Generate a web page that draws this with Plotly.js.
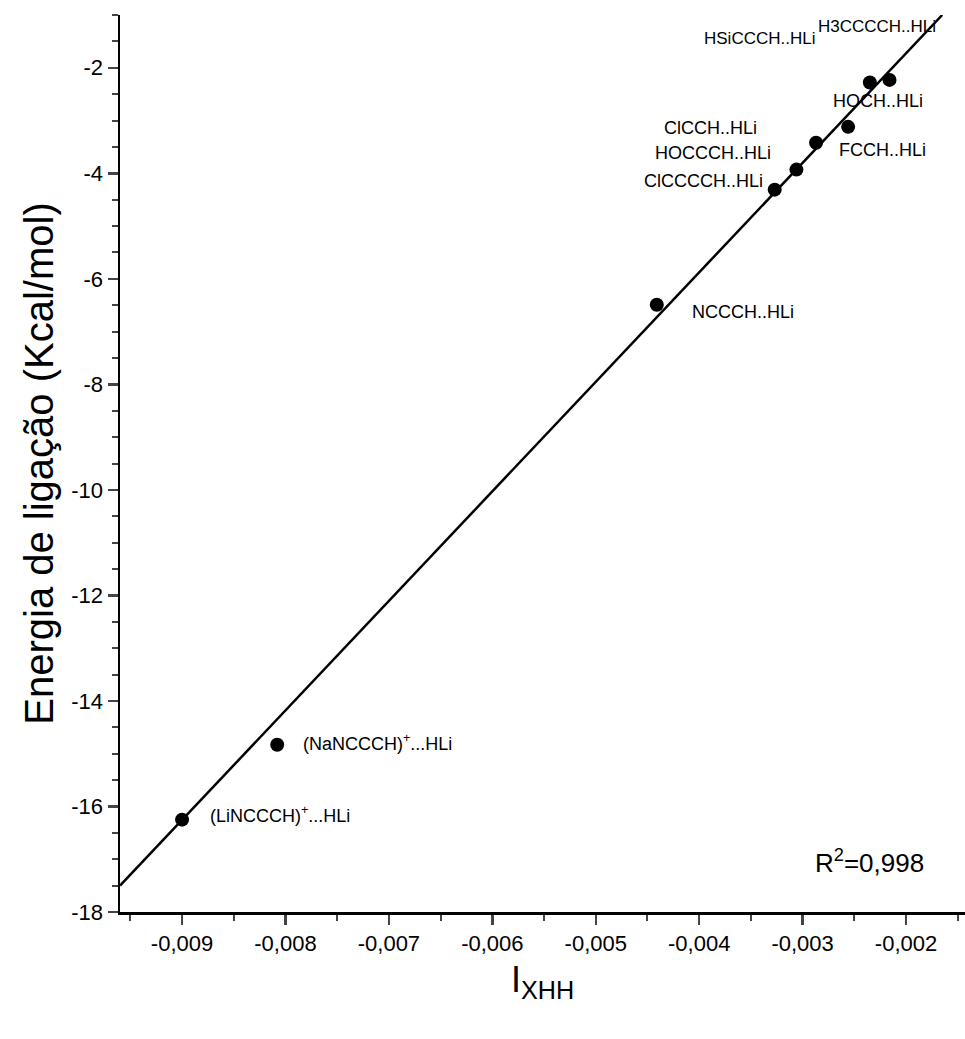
<!DOCTYPE html>
<html><head><script src="https://cdn.plot.ly/plotly-3.0.1.min.js"></script></head>
<body style="margin:0">
<div id="c" style="width:965px;height:1039px"></div>
<script>
const xVals=[-0.0090,-0.00808,-0.00441,-0.00327,-0.00306,-0.00287,-0.00256,-0.00235,-0.00216];
const yVals=[-16.25,-14.83,-6.49,-4.31,-3.93,-3.42,-3.12,-2.28,-2.23];
const fitX=[-0.0096,-0.00165];
const fitY=[-17.5,-1.0];
const labels=["(LiNCCCH)<sup>+</sup>...HLi","(NaNCCCH)<sup>+</sup>...HLi","NCCCH..HLi","ClCCCCH..HLi","HOCCCH..HLi","ClCCH..HLi","FCCH..HLi","HSiCCCH..HLi","H3CCCCH..HLi","HOCH..HLi"];
const labX=[-0.00875,-0.00785,-0.00409,-0.00396,-0.00387,-0.00389,-0.00223,-0.00342,-0.00228,-0.00227];
const labY=[-16.16,-14.78,-6.63,-4.14,-3.61,-3.14,-3.55,-1.45,-1.22,-2.63];
const labAnchor=["left","left","left","center","center","center","center","center","center","center"];
const F='Liberation Sans';
const ann=labels.map((t,i)=>({x:labX[i],y:labY[i],text:t,showarrow:false,xanchor:labAnchor[i],font:{size:i>=7&&i<=8?17:18,color:'#000',family:F}}));
ann.push({x:-0.00290,y:-17.05,text:"R<sup>2</sup>=0,998",showarrow:false,xanchor:'left',font:{size:26,color:'#000',family:F}});
Plotly.newPlot('c',[
 {x:fitX,y:fitY,mode:'lines',line:{color:'#000',width:2.5},hoverinfo:'skip'},
 {x:xVals,y:yVals,mode:'markers',marker:{color:'#000',size:14,symbol:'circle'}}
],{
 width:965,height:1039,showlegend:false,
 margin:{l:120,r:0,t:15,b:127},
 paper_bgcolor:'#fff',plot_bgcolor:'#fff',
 font:{family:F,color:'#000'},
 xaxis:{range:[-0.0096,-0.00143],tickvals:[-0.009,-0.008,-0.007,-0.006,-0.005,-0.004,-0.003,-0.002],
  ticktext:['-0,009','-0,008','-0,007','-0,006','-0,005','-0,004','-0,003','-0,002'],
  ticks:'outside',ticklen:10,tickwidth:2.5,showgrid:false,zeroline:false,showline:true,linewidth:2.5,linecolor:'#000',
  minor:{dtick:0.0005,ticks:'outside',ticklen:6,tickwidth:2},
  tickfont:{size:22,family:F},
  title:{text:'I<sub>XHH</sub>',font:{size:36},standoff:12}},
 yaxis:{range:[-18,-1],tickvals:[-18,-16,-14,-12,-10,-8,-6,-4,-2],
  ticktext:['-18','-16','-14','-12','-10','-8','-6','-4','-2'],
  ticks:'outside',ticklen:10,tickwidth:2.5,showgrid:false,zeroline:false,showline:true,linewidth:2.5,linecolor:'#000',
  minor:{dtick:0.5,ticks:'outside',ticklen:6,tickwidth:2},
  tickfont:{size:22,family:F},
  title:{text:'Energia de ligação (Kcal/mol)',font:{size:40},standoff:6}},
 annotations:ann
},{staticPlot:true});
</script></body></html>
